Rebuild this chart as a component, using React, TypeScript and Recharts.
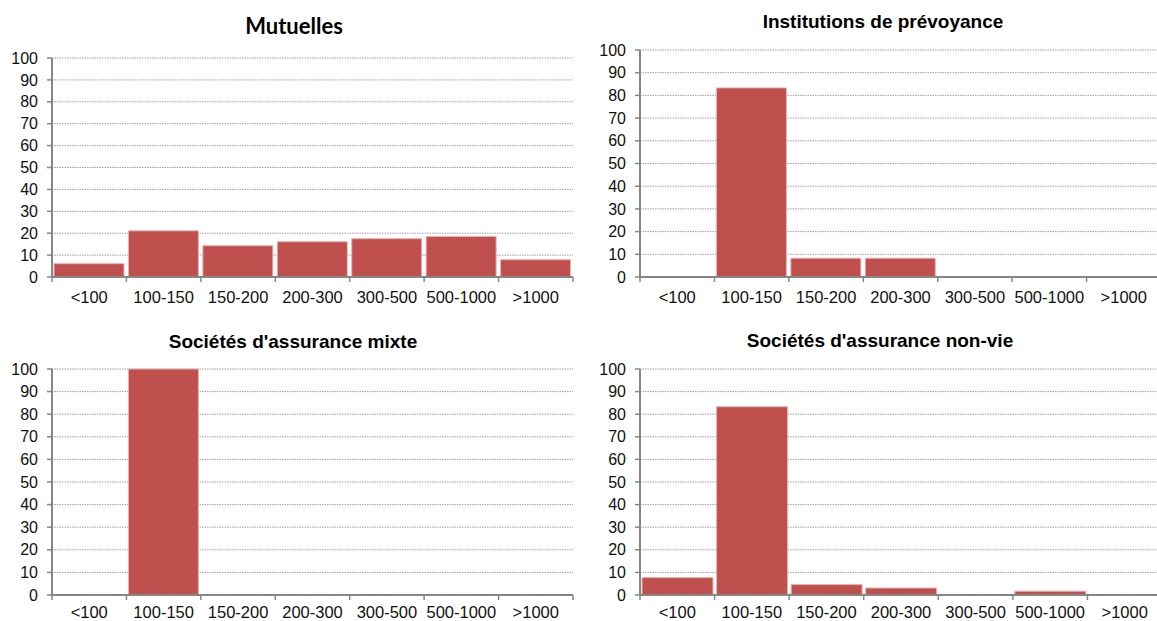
import React from 'react';
import { BarChart, Bar, XAxis, YAxis, CartesianGrid } from 'recharts';

// Size bands (categories shared by every panel)
const categories = ['<100', '100-150', '150-200', '200-300', '300-500', '500-1000', '>1000'];

// Share of entities per size band (%)
const mutuelles = [6.1, 21.1, 14.3, 16.1, 17.5, 18.5, 7.9];
const institutionsPrevoyance = [0, 83.3, 8.3, 8.3, 0, 0, 0];
const assuranceMixte = [0, 100, 0, 0, 0, 0, 0];
const assuranceNonVie = [7.7, 83.3, 4.6, 3.1, 0, 1.7, 0];

const yTicks = [0, 10, 20, 30, 40, 50, 60, 70, 80, 90, 100];

const BAR_FILL = '#C0504D';
const BAR_EDGE = '#E6B4B2';
const AXIS_GREY = '#868686';
const GRID_GREY = '#a0a0a0';
const FONT = '"Liberation Sans", Arial, sans-serif';
const TICK_SIZE = 5;

type Panel = {
  title: string;
  values: number[];
  left: number;
  top: number;
  width: number;
  height: number;
  margin: { top: number; right: number; bottom: number; left: number };
  xAxisHeight: number;
  labelGap: number;
};

const panels: Panel[] = [
  {
    title: 'Mutuelles',
    values: mutuelles,
    left: 0,
    top: 0,
    width: 580,
    height: 310,
    margin: { top: 58, right: 7, bottom: 0, left: 0 },
    xAxisHeight: 33,
    labelGap: 9,
  },
  {
    title: 'Institutions de prévoyance',
    values: institutionsPrevoyance,
    left: 588,
    top: 0,
    width: 580,
    height: 310,
    margin: { top: 50, right: 7, bottom: 0, left: 0 },
    xAxisHeight: 33,
    labelGap: 9,
  },
  {
    title: "Sociétés d'assurance mixte",
    values: assuranceMixte,
    left: 0,
    top: 310,
    width: 580,
    height: 311,
    margin: { top: 59, right: 7, bottom: 0, left: 0 },
    xAxisHeight: 26,
    labelGap: 6,
  },
  {
    title: "Sociétés d'assurance non-vie",
    values: assuranceNonVie,
    left: 588,
    top: 310,
    width: 580,
    height: 311,
    margin: { top: 59, right: 6, bottom: 0, left: 0 },
    xAxisHeight: 26,
    labelGap: 6,
  },
];

const Y_AXIS_WIDTH = 52;

// Category label centred in its band, with tick marks on the band boundaries.
function makeBoundaryTick(step: number, count: number, labelGap: number) {
  return function BoundaryTick(props: any) {
    const { x, y, payload, index } = props;
    const axisY = y - TICK_SIZE - labelGap;
    const left = x - step / 2;
    return (
      <g>
        <line x1={left} y1={axisY} x2={left} y2={axisY + TICK_SIZE} stroke={AXIS_GREY} strokeWidth={1.5} />
        {index === count - 1 && (
          <line
            x1={x + step / 2}
            y1={axisY}
            x2={x + step / 2}
            y2={axisY + TICK_SIZE}
            stroke={AXIS_GREY}
            strokeWidth={1.5}
          />
        )}
        <text x={x} y={y} dy="0.71em" textAnchor="middle" fontFamily={FONT} fontSize={16.5} fill="#111">
          {payload.value}
        </text>
      </g>
    );
  };
}

function HistogramPanel({ panel }: { panel: Panel }) {
  const data = categories.map((c, i) => ({ category: c, value: panel.values[i] }));
  const plotWidth = panel.width - panel.margin.left - panel.margin.right - Y_AXIS_WIDTH;
  const step = plotWidth / categories.length;
  return (
    <div style={{ position: 'absolute', left: panel.left, top: panel.top }}>
      <BarChart
        width={panel.width}
        height={panel.height}
        data={data}
        margin={panel.margin}
        barCategoryGap={2}
      >
        <CartesianGrid
          vertical={false}
          stroke={GRID_GREY}
          strokeDasharray="1.5 1"
          strokeWidth={1}
        />
        <XAxis
          dataKey="category"
          height={panel.xAxisHeight}
          tickLine={false}
          tickSize={TICK_SIZE}
          tickMargin={panel.labelGap}
          axisLine={{ stroke: AXIS_GREY, strokeWidth: 2 }}
          interval={0}
          tick={makeBoundaryTick(step, categories.length, panel.labelGap)}
        />
        <YAxis
          width={Y_AXIS_WIDTH}
          domain={[0, 100]}
          ticks={yTicks}
          interval={0}
          tickSize={TICK_SIZE}
          tickMargin={9}
          axisLine={{ stroke: AXIS_GREY, strokeWidth: 2 }}
          tickLine={{ stroke: AXIS_GREY, strokeWidth: 1.5 }}
          tick={{ fontFamily: FONT, fontSize: 16, fill: '#111' }}
        />
        <Bar
          dataKey="value"
          fill={BAR_FILL}
          stroke={BAR_EDGE}
          strokeWidth={1}
          isAnimationActive={false}
        />
      </BarChart>
    </div>
  );
}

// Panel headings, placed on a shared overlay
const titles = [
  { text: 'Mutuelles', x: 294, y: 34, font: 'Lato, "Open Sans", sans-serif', size: 22 },
  { text: 'Institutions de prévoyance', x: 883, y: 28, font: FONT, size: 19 },
  { text: "Sociétés d'assurance mixte", x: 293, y: 348, font: FONT, size: 19 },
  { text: "Sociétés d'assurance non-vie", x: 880, y: 347, font: FONT, size: 19 },
];

export default function App() {
  return (
    <div
      style={{
        position: 'absolute',
        left: 0,
        top: 0,
        width: 1157,
        height: 621,
        overflow: 'hidden',
        background: '#fff',
      }}
    >
      {panels.map((p) => (
        <HistogramPanel key={p.title} panel={p} />
      ))}
      <svg
        width={1157}
        height={621}
        style={{ position: 'absolute', left: 0, top: 0, pointerEvents: 'none' }}
      >
        {titles.map((t) => (
          <text
            key={t.text}
            x={t.x}
            y={t.y}
            textAnchor="middle"
            fontFamily={t.font}
            fontSize={t.size}
            fontWeight="bold"
            fill="#000"
          >
            {t.text}
          </text>
        ))}
      </svg>
    </div>
  );
}
